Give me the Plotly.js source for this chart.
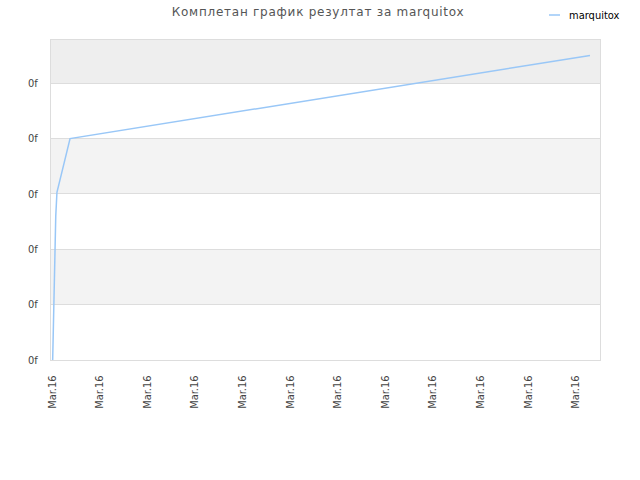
<!DOCTYPE html>
<html>
<head>
<meta charset="utf-8">
<script src="https://cdn.plot.ly/plotly-3.0.1.min.js"></script>
<style>
  html, body { margin: 0; padding: 0; background: #fff; }
  #chart { width: 640px; height: 480px; }
  #chart .gtitle { letter-spacing: 0.75px; }
  /* short legend swatch like the original */
  #chart .legendlines path { d: path('M20,0h11'); }
</style>
</head>
<body>
<div id="chart"></div>
<script>
// values (x in tick steps, y in grid steps)
const seriesName = 'marquitox';
const xValues = [0.015, 0.03, 0.045, 0.06, 0.08, 0.105, 0.38, 11.3];
const yValues = [0, 0.72, 1.26, 1.86, 2.6, 3.03, 4.0, 5.5];

const xTickVals = [0, 1, 2, 3, 4, 5, 6, 7, 8, 9, 10, 11];
const xTickText = xTickVals.map(() => 'Mar.16');
const yTickVals = [0, 1, 2, 3, 4, 5];
const yTickText = yTickVals.map(() => '0f');

const yTop = 5.78;
const labelFont = { family: 'DejaVu Sans Condensed, DejaVu Sans', size: 11, color: '#444' };

// alternating bands between the grid lines, shaded from the top down
const bands = [];
const edges = yTickVals.concat([yTop]);
for (let i = 0; i < edges.length - 1; i++) {
	const fromTop = edges.length - 2 - i;
	if (fromTop % 2 === 0) {
		bands.push({
			type: 'rect', xref: 'paper', yref: 'y', layer: 'below',
			x0: 0, x1: 1, y0: edges[i], y1: edges[i + 1],
			fillcolor: fromTop === 0 ? '#eeeeee' : '#f3f3f3',
			line: { width: 0 }
		});
	}
}

const trace = {
	x: xValues,
	y: yValues,
	mode: 'lines',
	type: 'scatter',
	name: seriesName,
	line: { color: '#99c7f7', width: 1.5 }
};

const layout = {
	width: 640,
	height: 480,
	margin: { l: 51, r: 40, t: 40, b: 120, autoexpand: false },
	paper_bgcolor: '#ffffff',
	plot_bgcolor: '#ffffff',
	title: {
		text: 'Комплетан график резултат за marquitox',
		x: 0.497, xanchor: 'center', y: 0.975, yanchor: 'middle',
		font: { family: 'DejaVu Sans', size: 12, color: '#555' }
	},
	showlegend: true,
	legend: {
		x: 0.8707, y: 1.078, xanchor: 'left', yanchor: 'middle',
		orientation: 'h',
		itemwidth: 30,
		font: { family: 'DejaVu Sans Condensed, DejaVu Sans', size: 11, color: '#000' },
		bgcolor: 'rgba(0,0,0,0)'
	},
	xaxis: {
		range: [-0.02, 11.51],
		tickvals: xTickVals,
		ticktext: xTickText,
		tickangle: -90,
		tickfont: labelFont,
		ticklabelstandoff: 10,
		showgrid: false,
		zeroline: false,
		showline: true,
		linecolor: '#dddddd',
		mirror: true,
		ticks: '',
		fixedrange: true
	},
	yaxis: {
		range: [0, yTop],
		tickvals: yTickVals,
		ticktext: yTickText,
		tickfont: labelFont,
		ticklabelstandoff: 10,
		showgrid: true,
		gridcolor: '#dddddd',
		zeroline: false,
		showline: true,
		linecolor: '#dddddd',
		mirror: true,
		ticks: '',
		fixedrange: true
	},
	shapes: bands
};

Plotly.newPlot('chart', [trace], layout, { displayModeBar: false, staticPlot: true });
</script>
</body>
</html>
